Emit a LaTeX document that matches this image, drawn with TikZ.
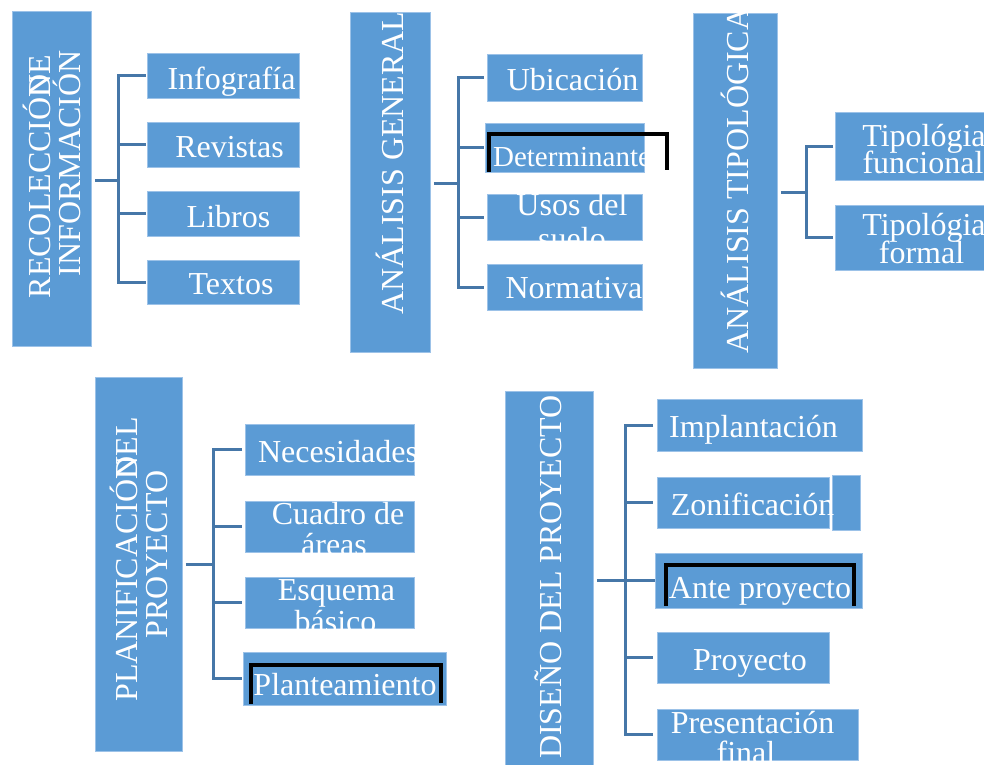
\documentclass[tikz,border=0pt]{standalone}
\usepackage{fontspec}
\setmainfont{Liberation Serif}
\definecolor{boxfill}{HTML}{5B9BD5}
\definecolor{boxedge}{HTML}{9CC2E8}
\definecolor{connc}{HTML}{4677A8}
\tikzset{
  box/.style={fill=boxfill, draw=boxedge, line width=0.8pt, inner sep=0pt, anchor=north west},
  txt/.style={text=white, font=\fontsize{32}{32}\selectfont, inner sep=0pt, anchor=base},
  smalltxt/.style={txt, font=\fontsize{29}{29}\selectfont},
  vtxt/.style={txt, rotate=90},
  conn/.style={draw=connc, line width=3pt, line join=miter},
  blackedge/.style={draw=black, line width=4pt, line join=miter},
}
\newcommand\mybox[5]{\node[box, minimum width={#4pt-#2pt}, minimum height={#5pt-#3pt}] (#1) at (#2,#3) {};}
\begin{document}
\begin{tikzpicture}[x=1pt,y=-1pt]
\useasboundingbox (0,0) rectangle (984,764);
\fill[white] (0,0) rectangle (984,764);

% ---------- Group 1 ----------
\mybox{t1}{12}{11}{91}{346}
\node[vtxt] (t1a) at (50,176.5) {RECOLECCIÓ\rlap{N}DE};
\node[vtxt] (t1b) at (80,163.5) {INFORMACIÓN};
\mybox{inf}{147}{53}{299}{98}
\mybox{rev}{147}{122}{299}{167}
\mybox{lib}{147}{191}{299}{236}
\mybox{tex}{147}{260}{299}{304}
\node[txt] (infT) at (231.5,89) {Infografía};
\node[txt] (revT) at (229.5,157) {Revistas};
\node[txt] (libT) at (228.5,227) {Libros};
\node[txt] (texT) at (231,294) {Textos};
\coordinate (j1) at (118,180);
\draw[conn] ([xshift=3pt]t1.east |- j1) -- (j1);
\draw[conn] ([xshift=-1pt]inf.west) -- (j1 |- inf.west) -- (j1 |- tex.west) -- ([xshift=-1pt]tex.west);
\foreach \c in {rev,lib} \draw[conn] (j1 |- \c.west) -- ([xshift=-1pt]\c.west);

% ---------- Group 2 ----------
\mybox{t2}{350}{12}{430}{352}
\begin{scope}
\clip (t2.south west) rectangle (t2.north east);
\node[vtxt] (t2a) at (403,163) {ANÁLISIS GENERAL};
\end{scope}
\mybox{ubi}{487}{54}{642}{101}
\mybox{det}{485}{123}{644}{172}
\mybox{uso}{487}{194}{642}{240}
\mybox{nor}{487}{264}{642}{310}
\node[txt] (ubiT) at (572.5,90) {Ubicación};
\begin{scope}
\clip (det.south west) rectangle (det.north east);
\node[smalltxt] (detT) at (572,166) {Determinante};
\end{scope}
\begin{scope}
\clip (uso.south west) rectangle (uso.north east);
\node[txt] (usoA) at (572,215) {Usos del};
\node[txt] (usoB) at (572,249) {suelo};
\end{scope}
\node[txt] (norT) at (574,298) {Normativa};
\draw[blackedge] (489,172) -- (489,134) -- (667,134) -- (667,170);
\coordinate (j2) at (458,183);
\draw[conn] ([xshift=3pt]t2.east |- j2) -- (j2);
\draw[conn] ([xshift=-3pt]ubi.west) -- (j2 |- ubi.west) -- (j2 |- nor.west) -- ([xshift=-3pt]nor.west);
\draw[conn] (j2 |- det.west) -- ([xshift=-1pt]det.west);
\draw[conn] (j2 |- uso.west) -- ([xshift=-3pt]uso.west);

% ---------- Group 3 ----------
\mybox{t3}{693}{13}{777}{368}
\begin{scope}
\clip (t3.south west) rectangle (t3.north east);
\node[vtxt] (t3a) at (748,180.5) {ANÁLISIS TIPOLÓGICA};
\end{scope}
\mybox{tfu}{835}{112}{992}{180}
\mybox{tfo}{835}{205}{992}{270}
\node[txt] (tfuA) at (924,146) {Tipológia};
\node[txt] (tfuB) at (923,173) {funcional};
\node[txt] (tfoA) at (924,235) {Tipológia};
\node[txt] (tfoB) at (921.5,263) {formal};
\coordinate (j3) at (806,192);
\draw[conn] ([xshift=3pt]t3.east |- j3) -- (j3);
\draw[conn] ([xshift=-2pt]tfu.west) -- (j3 |- tfu.west) -- (j3 |- tfo.west) -- ([xshift=-2pt]tfo.west);

% ---------- Group 4 ----------
\mybox{t4}{95}{377}{182}{751}
\node[vtxt] (t4a) at (137,559.5) {PLANIFICACIÓ\rlap{N}DEL};
\node[vtxt] (t4b) at (167,554.5) {PROYECTO};
\mybox{nec}{245}{424}{414}{475}
\mybox{cua}{245}{501}{414}{552}
\mybox{esq}{245}{577}{414}{628}
\mybox{pla}{243}{652}{446}{705}
\begin{scope}
\clip (nec.south west) rectangle (nec.north east);
\node[txt] (necT) at (338,462) {Necesidades};
\end{scope}
\begin{scope}
\clip (cua.south west) rectangle (cua.north east);
\node[txt] (cuaA) at (338,524) {Cuadro de};
\node[txt] (cuaB) at (334,555) {áreas};
\end{scope}
\begin{scope}
\clip (esq.south west) rectangle (esq.north east);
\node[txt] (esqA) at (336.5,600) {Esquema};
\node[txt] (esqB) at (335.5,632) {básico};
\end{scope}
\node[txt] (plaT) at (345,695) {Planteamiento};
\draw[blackedge] (251,704) -- (251,665) -- (441,665) -- (441,703);
\coordinate (j4) at (213,564);
\draw[conn] ([xshift=3pt]t4.east |- j4) -- (j4);
\draw[conn] ([xshift=-3pt]nec.west) -- (j4 |- nec.west) -- (j4 |- pla.west) -- ([xshift=-1pt]pla.west);
\foreach \c in {cua,esq} \draw[conn] (j4 |- \c.west) -- ([xshift=-3pt]\c.west);

% ---------- Group 5 ----------
\mybox{t5}{505}{391}{593}{772}
\node[vtxt] (t5a) at (561,577) {DISEÑO DEL PROYECTO};
\mybox{imp}{657}{399}{862}{451}
\mybox{zon}{657}{477}{829}{528}
\mybox{zonx}{832}{475}{860}{530}
\mybox{ant}{655}{553}{862}{608}
\mybox{pro}{657}{632}{829}{683}
\mybox{pre}{657}{709}{858}{760}
\node[txt] (impT) at (753.5,437) {Implantación};
\node[txt] (zonT) at (752.5,515) {Zonificación};
\node[txt] (antT) at (760,598) {Ante proyecto};
\node[txt] (proT) at (750,670) {Proyecto};
\begin{scope}
\clip (pre.south west) rectangle (pre.north east);
\node[txt] (preA) at (752.5,733) {Presentación};
\node[txt] (preB) at (746,763) {final};
\end{scope}
\draw[blackedge] (666,606) -- (666,565) -- (854,565) -- (854,606);
\coordinate (j5) at (625,580.5);
\draw[conn] ([xshift=3pt]t5.east |- j5) -- (j5 -| ant.west);
\draw[conn] ([xshift=-4pt]imp.west) -- (j5 |- imp.west) -- (j5 |- pre.west) -- ([xshift=-4pt]pre.west);
\foreach \c in {zon,pro} \draw[conn] (j5 |- \c.west) -- ([xshift=-4pt]\c.west);
\end{tikzpicture}
\end{document}
